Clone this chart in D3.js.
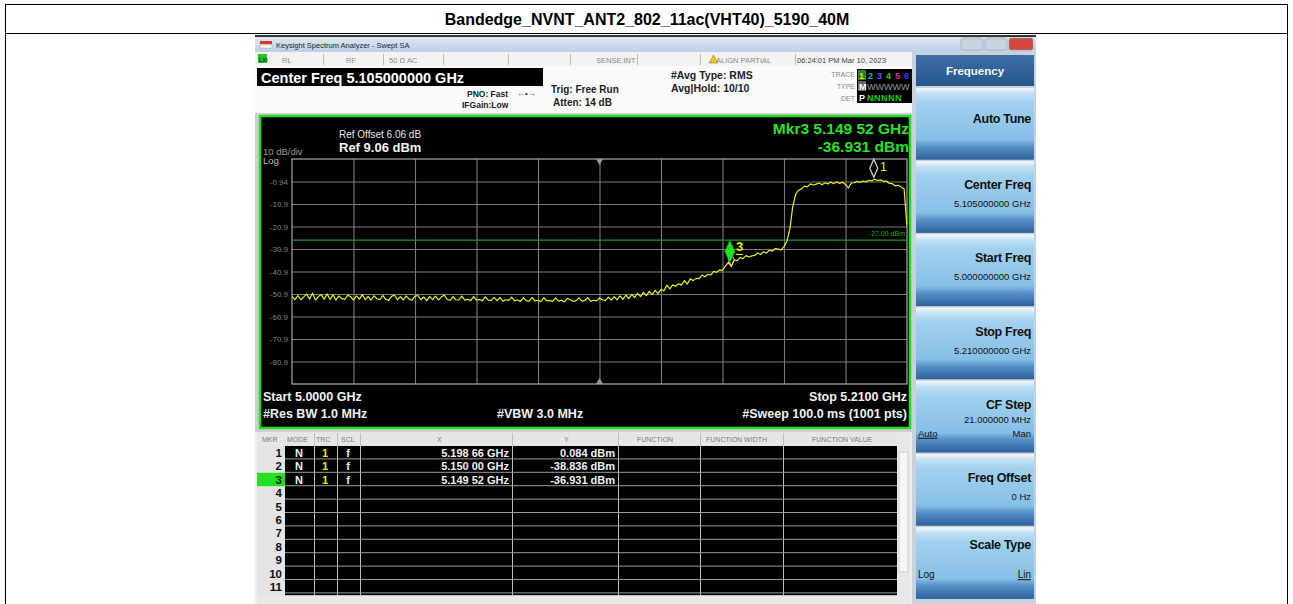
<!DOCTYPE html>
<html>
<head>
<meta charset="utf-8">
<script src="https://cdn.jsdelivr.net/npm/d3@7"></script>
<style>
body { margin: 0; background: #fff; }
svg { display: block; font-family: "Liberation Sans", Arial, sans-serif; }
</style>
</head>
<body>
<script>
"use strict";
var W = 1293, H = 604;

// sweep settings
var startFreq = 5.0;
var stopFreq = 5.21;
var refLevel = 9.06;
var dbPerDiv = 10;
var displayLine = -27.0;

// trace 1 levels (dBm), one reading every 1 MHz from start to stop
var traceLevels = [
	-52.0,-53.4,-51.6,-53.5,-52.2,-51.0,-53.2,-50.6,-53.6,-52.1,
	-51.2,-53.3,-50.9,-53.4,-51.3,-53.7,-51.8,-53.0,-53.3,-51.5,
	-52.1,-53.6,-51.8,-53.2,-51.2,-53.5,-52.0,-53.7,-51.7,-53.1,
	-53.4,-51.6,-53.3,-53.8,-52.0,-51.4,-53.5,-52.1,-53.6,-51.8,
	-53.2,-53.7,-51.9,-51.6,-53.5,-52.2,-53.9,-52.0,-53.4,-51.9,
	-53.6,-52.3,-51.4,-53.4,-53.8,-52.1,-53.5,-53.6,-51.9,-53.7,
	-53.3,-53.9,-52.1,-53.6,-53.4,-54.0,-52.2,-53.7,-53.8,-52.4,
	-53.9,-52.5,-54.1,-53.5,-53.8,-52.3,-54.0,-53.6,-54.2,-52.6,
	-53.9,-54.1,-52.5,-54.0,-53.7,-54.3,-52.6,-54.0,-53.8,-54.2,
	-52.7,-54.1,-53.7,-54.4,-52.9,-53.5,-54.2,-53.9,-52.7,-54.1,
	-53.8,-52.6,-54.2,-53.7,-54.0,-52.7,-53.5,-53.9,-52.3,-53.6,
	-52.1,-53.5,-51.8,-53.3,-51.4,-53.0,-51.1,-52.5,-50.7,-52.1,
	-50.2,-51.7,-49.8,-51.2,-49.3,-50.8,-48.9,-49.5,-47.0,-48.7,
	-46.9,-47.5,-46.4,-47.0,-45.0,-46.5,-44.2,-45.0,-44.0,-44.1,
	-42.5,-43.3,-42.2,-42.5,-40.9,-41.3,-40.2,-40.4,-38.5,-36.9,
	-38.8,-35.8,-36.1,-34.7,-35.2,-33.9,-34.5,-34.0,-33.8,-32.7,
	-33.4,-32.2,-32.7,-31.5,-31.9,-30.7,-31.0,-31.4,-29.9,-27.5,
	-22.0,-12.0,-6.5,-4.8,-4.2,-3.0,-3.3,-2.0,-2.5,-2.1,
	-1.6,-2.4,-1.5,-2.0,-1.2,-1.9,-1.1,-1.8,-1.3,-2.3,
	-3.8,-1.6,-1.5,-0.9,-1.3,-0.8,-1.1,-0.4,-0.6,0.08,
	-0.5,-0.2,-0.9,-0.8,-1.8,-1.9,-2.9,-2.6,-3.4,-4.2,-21.0
];

// graticule labels on the left
var gridLevels = [-0.94,-10.94,-20.94,-30.94,-40.94,-50.94,-60.94,-70.94,-80.94];
var gridLabels = ["-0.94","-10.9","-20.9","-30.9","-40.9","-50.9","-60.9","-70.9","-80.9"];

// marker table
var markerIds = [1,2,3];
var markerFreqs = [5.19866, 5.15000, 5.14952];
var markerLevels = [0.084, -38.836, -36.931];
var markerXText = ["5.198 66 GHz","5.150 00 GHz","5.149 52 GHz"];
var markerYText = ["0.084 dBm","-38.836 dBm","-36.931 dBm"];
var tableRows = [1,2,3,4,5,6,7,8,9,10,11];

// soft keys
var softKeys = ["Auto Tune","Center Freq","Start Freq","Stop Freq","CF Step","Freq Offset","Scale Type"];
var softValues = ["","5.105000000 GHz","5.000000000 GHz","5.210000000 GHz","21.000000 MHz","0 Hz",""];

var svg = d3.select("body").append("svg").attr("width", W).attr("height", H);
var defs = svg.append("defs");

// ---------- page frame and title
svg.append("rect").attr("x",5.5).attr("y",4.5).attr("width",1282).attr("height",640)
	.attr("fill","none").attr("stroke","#000");
svg.append("line").attr("x1",5).attr("x2",1288).attr("y1",33.5).attr("y2",33.5).attr("stroke","#000");
svg.append("text").attr("x",647).attr("y",25).attr("text-anchor","middle")
	.attr("font-size",16).attr("font-weight","bold").text("Bandedge_NVNT_ANT2_802_11ac(VHT40)_5190_40M");

// ---------- screenshot background
svg.append("rect").attr("x",255).attr("y",35).attr("width",781).attr("height",569).attr("fill","#eeeeee");

// window title bar
var tb = defs.append("linearGradient").attr("id","tbar").attr("x1",0).attr("x2",0).attr("y1",0).attr("y2",1);
tb.append("stop").attr("offset","0%").attr("stop-color","#dfe9f4");
tb.append("stop").attr("offset","100%").attr("stop-color","#bccfe5");
svg.append("rect").attr("x",255).attr("y",35).attr("width",781).attr("height",2).attr("fill","#333");
svg.append("rect").attr("x",255).attr("y",37).attr("width",781).attr("height",15).attr("fill","url(#tbar)");
svg.append("rect").attr("x",260).attr("y",41).attr("width",12).attr("height",3).attr("fill","#d33");
svg.append("rect").attr("x",260).attr("y",45).attr("width",12).attr("height",3).attr("fill","#fff").attr("stroke","#999").attr("stroke-width",0.5);
svg.append("text").attr("x",276).attr("y",48).attr("font-size",7.5).attr("fill","#223")
	.text("Keysight Spectrum Analyzer - Swept SA");
[[961,22,"#c9d3df"],[985,22,"#c9d3df"],[1009,24,"#d2483b"]].forEach(function(b){
	svg.append("rect").attr("x",b[0]).attr("y",38).attr("width",b[1]).attr("height",12)
		.attr("rx",2).attr("fill",b[2]).attr("stroke","#8b9bb0").attr("stroke-width",0.6);
});

// status row
svg.append("rect").attr("x",255).attr("y",52).attr("width",657).attr("height",14).attr("fill","#f3f3f3");
svg.append("rect").attr("x",258).attr("y",54).attr("width",9).attr("height",9).attr("fill","#22c422");
svg.append("text").attr("x",259).attr("y",62).attr("font-size",6).attr("fill","#000").text("LXI");
[323,383,443,508,570,637,700,795].forEach(function(px){
	svg.append("line").attr("x1",px+0.5).attr("x2",px+0.5).attr("y1",54).attr("y2",65).attr("stroke","#bbb");
});
var statusTexts = [[282,"RL"],[346,"RF"],[389,"50 Ω   AC"],[596,"SENSE:INT"],[716,"ALIGN PARTIAL"],[797,"06:24:01 PM Mar 10, 2023"]];
statusTexts.forEach(function(s){
	svg.append("text").attr("x",s[0]).attr("y",63).attr("font-size",7.5).attr("fill", s[0]==797 ? "#444" : "#888").text(s[1]);
});
svg.append("path").attr("d","M709,63 L713.5,55 L718,63 Z").attr("fill","#e8c400").attr("stroke","#777").attr("stroke-width",0.5);

// info area
svg.append("rect").attr("x",255).attr("y",66).attr("width",657).attr("height",47).attr("fill","#fafafa");
svg.append("rect").attr("x",257).attr("y",68).attr("width",286).attr("height",18).attr("fill","#000");
svg.append("text").attr("x",261).attr("y",83).attr("font-size",14.5).attr("font-weight","bold").attr("fill","#fff")
	.text("Center Freq 5.105000000 GHz");
function infoText(x, y, size, t, anchor) {
	svg.append("text").attr("x",x).attr("y",y).attr("font-size",size).attr("font-weight","bold")
		.attr("fill","#222").attr("text-anchor",anchor || "start").text(t);
}
infoText(467,97,8.5,"PNO: Fast");
infoText(462,108,8.5,"IFGain:Low");
svg.append("text").attr("x",517).attr("y",96).attr("font-size",8).attr("fill","#333").text("←•→");
infoText(551,93,10,"Trig: Free Run");
infoText(553,106,10,"Atten: 14 dB");
infoText(671,79,10.5,"#Avg Type: RMS");
infoText(671,92,10.5,"Avg|Hold: 10/10");
[["TRACE",77],["TYPE",89],["DET",101]].forEach(function(t){
	svg.append("text").attr("x",855).attr("y",t[1]).attr("font-size",7).attr("fill","#888").attr("text-anchor","end").text(t[0]);
});
svg.append("rect").attr("x",857).attr("y",69).attr("width",55).attr("height",34).attr("fill","#000");
var traceColors = ["#e8e800","#1fb7c4","#5b5bff","#22cc22","#e0307a","#3b3bff"];
svg.append("rect").attr("x",858).attr("y",70).attr("width",8).attr("height",10).attr("fill","#2f7f2f");
traceColors.forEach(function(c,i){
	svg.append("text").attr("x",859+i*9).attr("y",79).attr("font-size",9).attr("font-weight","bold").attr("fill",c).text(i+1);
});
svg.append("rect").attr("x",858).attr("y",81).attr("width",8).attr("height",10).attr("fill","#666");
svg.append("text").attr("x",859).attr("y",90).attr("font-size",9).attr("font-weight","bold").attr("fill","#fff").text("M");
svg.append("text").attr("x",867).attr("y",90).attr("font-size",9).attr("fill","#999").text("WWWWW");
svg.append("text").attr("x",859).attr("y",101).attr("font-size",9).attr("font-weight","bold").attr("fill","#fff").text("P");
svg.append("text").attr("x",867).attr("y",101).attr("font-size",9).attr("font-weight","bold").attr("fill","#18d018")
	.attr("letter-spacing",0.5).text("NNNNN");

// ---------- plot panel
svg.append("rect").attr("x",255).attr("y",113).attr("width",657).attr("height",319).attr("fill","#cfcfcf");
svg.append("rect").attr("x",260).attr("y",116).attr("width",650).attr("height",312)
	.attr("fill","#000").attr("stroke","#22dd22").attr("stroke-width",2.5);

var gx0 = 292, gx1 = 907, gy0 = 159, gy1 = 384;
var x = d3.scaleLinear().domain([startFreq, stopFreq]).range([gx0, gx1]);
var y = d3.scaleLinear().domain([refLevel, refLevel - 10*dbPerDiv]).range([gy0, gy1]);

// vertical graticule
var xDivs = d3.range(1,10).map(function(k){ return startFreq + k*(stopFreq-startFreq)/10; });
var xAxis = svg.append("g").attr("transform","translate(0,"+gy0+")")
	.call(d3.axisTop(x).tickValues(xDivs).tickSize(-(gy1-gy0)).tickFormat(""));
xAxis.select(".domain").remove();
xAxis.selectAll("line").attr("stroke","#7d7d7d").attr("stroke-width",1.1);

// horizontal graticule with level labels
var yAxis = svg.append("g").attr("transform","translate("+gx0+",0)")
	.call(d3.axisLeft(y).tickValues(gridLevels).tickSize(-(gx1-gx0)).tickPadding(4)
		.tickFormat(function(d,i){ return gridLabels[i]; }));
yAxis.select(".domain").remove();
yAxis.selectAll("line").attr("stroke","#7d7d7d").attr("stroke-width",1.1);
yAxis.selectAll("text").attr("fill","#808080").attr("font-size",8).attr("font-family","Liberation Sans, Arial, sans-serif");

svg.append("rect").attr("x",gx0).attr("y",gy0).attr("width",gx1-gx0).attr("height",gy1-gy0)
	.attr("fill","none").attr("stroke","#a8a8a8").attr("stroke-width",1.2);

// center frequency indicators
var cx = x((startFreq+stopFreq)/2);
svg.append("path").attr("d","M"+(cx-3.5)+","+gy0+" L"+(cx+3.5)+","+gy0+" L"+cx+","+(gy0+6)+" Z").attr("fill","#999");
svg.append("path").attr("d","M"+(cx-3.5)+","+gy1+" L"+(cx+3.5)+","+gy1+" L"+cx+","+(gy1-6)+" Z").attr("fill","#999");

// display line
svg.append("line").attr("x1",gx0).attr("x2",gx1).attr("y1",y(displayLine)).attr("y2",y(displayLine))
	.attr("stroke","#1a9a1a").attr("stroke-width",1.3);
svg.append("text").attr("x",gx1-2).attr("y",y(displayLine)-4).attr("text-anchor","end")
	.attr("font-size",7).attr("fill","#1faa1f").text("-27.00 dBm");

// trace
defs.append("clipPath").attr("id","grat").append("rect")
	.attr("x",gx0).attr("y",gy0).attr("width",gx1-gx0).attr("height",gy1-gy0);
var step = (stopFreq - startFreq) / (traceLevels.length - 1);
var line = d3.line()
	.x(function(d,i){ return x(startFreq + i*step); })
	.y(function(d){ return y(d); });
svg.append("path").datum(traceLevels).attr("d",line).attr("clip-path","url(#grat)")
	.attr("fill","none").attr("stroke","#eeee10").attr("stroke-width",1.2).attr("stroke-linejoin","round");

// markers
function diamond(mx, my, w, h) {
	return "M"+mx+","+my+" L"+(mx+w/2)+","+(my-h/2)+" L"+mx+","+(my-h)+" L"+(mx-w/2)+","+(my-h/2)+" Z";
}
var m2x = x(markerFreqs[1]), m2y = y(markerLevels[1]);
svg.append("path").attr("d",diamond(m2x, m2y-1, 6, 12)).attr("fill","none").attr("stroke","#cfcfcf").attr("stroke-width",1);
var m1x = x(markerFreqs[0]), m1y = y(markerLevels[0]);
svg.append("path").attr("d",diamond(m1x, m1y-2, 8, 18)).attr("fill","none").attr("stroke","#d8d8d8").attr("stroke-width",1.2);
svg.append("text").attr("x",m1x+6).attr("y",m1y-8).attr("font-size",13).attr("fill","#e8e800").text(markerIds[0]);
var m3x = x(markerFreqs[2]), m3y = y(markerLevels[2]);
svg.append("path").attr("d",diamond(m3x, m3y, 10, 22)).attr("fill","#22e022").attr("stroke","#1aa81a").attr("stroke-width",0.8);
svg.append("text").attr("x",m3x+6).attr("y",m3y-11).attr("font-size",13).attr("font-weight","bold").attr("fill","#e8e800").text(markerIds[2]);
svg.append("line").attr("x1",m3x+6).attr("x2",m3x+13).attr("y1",m3y-8).attr("y2",m3y-8).attr("stroke","#e8e800").attr("stroke-width",1.2);

// plot annotations
function plotText(px, py, size, t, color, bold, anchor) {
	svg.append("text").attr("x",px).attr("y",py).attr("font-size",size)
		.attr("font-weight",bold ? "bold" : "normal").attr("fill",color)
		.attr("text-anchor",anchor || "start").text(t);
}
plotText(339,138,10,"Ref Offset 6.06 dB","#e6e6e6",false);
plotText(339,152,13,"Ref 9.06 dBm","#f2f2f2",true);
plotText(263,155,9.5,"10 dB/div","#9a9a9a",false);
plotText(263,164,9.5,"Log","#bdbdbd",false);
plotText(909,134,15.5,"Mkr3 5.149 52 GHz","#2be02b",true,"end");
plotText(909,152,15.5,"-36.931 dBm","#2be02b",true,"end");
plotText(263,401,12.5,"Start 5.0000 GHz","#f2f2f2",true);
plotText(263,418,12.5,"#Res BW 1.0 MHz","#f2f2f2",true);
plotText(497,418,12.5,"#VBW 3.0 MHz","#f2f2f2",true);
plotText(907,401,12.5,"Stop 5.2100 GHz","#f2f2f2",true,"end");
plotText(907,418,12.5,"#Sweep  100.0 ms (1001 pts)","#f2f2f2",true,"end");

// ---------- marker table
var tY0 = 446, rowH = 13.4;
svg.append("rect").attr("x",257).attr("y",432).attr("width",653).attr("height",14).attr("fill","#e6e6e6");
svg.append("rect").attr("x",285).attr("y",tY0).attr("width",612).attr("height",rowH*11+2).attr("fill","#000");
svg.append("rect").attr("x",257).attr("y",tY0).attr("width",28).attr("height",rowH*11+2).attr("fill","#e4e4e4");
svg.append("rect").attr("x",897).attr("y",432).attr("width",13).attr("height",166).attr("fill","#e8e8e8");
svg.append("rect").attr("x",899).attr("y",452).attr("width",9).attr("height",120).attr("fill","#f6f6f6").attr("stroke","#bbb").attr("stroke-width",0.6);
svg.append("rect").attr("x",257).attr("y",tY0+rowH*11+2).attr("width",653).attr("height",10).attr("fill","#e8e8e8");
svg.append("rect").attr("x",257).attr("y",tY0+rowH*2).attr("width",28).attr("height",rowH).attr("fill","#22e022");

var headers = [[262,"MKR"],[287,"MODE"],[316,"TRC"],[341,"SCL"],[437,"X"],[564,"Y"],[637,"FUNCTION"],[706,"FUNCTION WIDTH"],[812,"FUNCTION VALUE"]];
headers.forEach(function(h){
	svg.append("text").attr("x",h[0]).attr("y",442).attr("font-size",7).attr("fill","#7a7a7a").text(h[1]);
});
[314,337,360,512,618,700,783].forEach(function(cx){
	svg.append("line").attr("x1",cx+0.5).attr("x2",cx+0.5).attr("y1",433).attr("y2",tY0+rowH*11+2)
		.attr("stroke","#bdbdbd").attr("stroke-width",1);
});
var rows = svg.selectAll("g.trow").data(tableRows).enter().append("g").attr("class","trow")
	.attr("transform",function(d,i){ return "translate(0,"+(tY0+i*rowH)+")"; });
rows.append("line").attr("x1",285).attr("x2",897).attr("y1",rowH-0.5).attr("y2",rowH-0.5)
	.attr("stroke","#9a9a9a").attr("stroke-width",1);
rows.append("text").attr("x",282).attr("y",11).attr("text-anchor","end").attr("font-size",11.5)
	.attr("font-weight","bold").attr("fill","#111").text(function(d){ return d; });
markerIds.forEach(function(id,i){
	var g = d3.select(rows.nodes()[i]);
	g.append("text").attr("x",299).attr("y",11).attr("text-anchor","middle").attr("font-size",11)
		.attr("font-weight","bold").attr("fill","#f0f0f0").text("N");
	g.append("text").attr("x",325).attr("y",11).attr("text-anchor","middle").attr("font-size",11)
		.attr("font-weight","bold").attr("fill","#e8e800").text("1");
	g.append("text").attr("x",348).attr("y",11).attr("text-anchor","middle").attr("font-size",11)
		.attr("font-weight","bold").attr("fill","#f0f0f0").text("f");
	g.append("text").attr("x",509).attr("y",11).attr("text-anchor","end").attr("font-size",11)
		.attr("font-weight","bold").attr("fill","#f0f0f0").text(markerXText[i]);
	g.append("text").attr("x",615).attr("y",11).attr("text-anchor","end").attr("font-size",11)
		.attr("font-weight","bold").attr("fill","#f0f0f0").text(markerYText[i]);
});

// ---------- soft key panel
svg.append("rect").attr("x",912).attr("y",52).attr("width",124).attr("height",552).attr("fill","#c9d2dc");
var hg = defs.append("linearGradient").attr("id","hdr").attr("x1",0).attr("x2",0).attr("y1",0).attr("y2",1);
hg.append("stop").attr("offset","0%").attr("stop-color","#3d6fa6");
hg.append("stop").attr("offset","100%").attr("stop-color","#25578f");
svg.append("rect").attr("x",916).attr("y",55).attr("width",118).attr("height",31).attr("fill","url(#hdr)");
svg.append("text").attr("x",975).attr("y",75).attr("text-anchor","middle").attr("font-size",11.5)
	.attr("font-weight","bold").attr("fill","#f4f8fc").text("Frequency");

var bg = defs.append("linearGradient").attr("id","key").attr("x1",0).attr("x2",0).attr("y1",0).attr("y2",1);
[["0%","#f4f9fd"],["8%","#c2e1f4"],["20%","#a2d1ef"],["72%","#86bfe6"],["82%","#5690c5"],["100%","#2d619c"]].forEach(function(s){
	bg.append("stop").attr("offset",s[0]).attr("stop-color",s[1]);
});
var keyTop = 88, keyH = 73.2;
var keys = svg.selectAll("g.key").data(softKeys).enter().append("g").attr("class","key")
	.attr("transform",function(d,i){ return "translate(916,"+(keyTop+i*keyH)+")"; });
keys.append("rect").attr("width",118).attr("height",keyH-1.5).attr("fill","url(#key)");
keys.append("text").attr("x",115).attr("y",function(d,i){ return i==0 ? 35 : (i==6 ? 22 : 28); })
	.attr("text-anchor","end").attr("font-size",12.5).attr("font-weight","bold").attr("fill","#111")
	.attr("letter-spacing",-0.3).text(function(d){ return d; });
keys.append("text").attr("x",115).attr("y",function(d,i){ return i==4 ? 42 : 46; })
	.attr("text-anchor","end").attr("font-size",9.5).attr("fill","#111")
	.text(function(d,i){ return softValues[i]; });
// Auto / Man and Log / Lin choices
var cf = d3.select(keys.nodes()[4]);
cf.append("text").attr("x",2).attr("y",56).attr("font-size",9.5).attr("fill","#111").attr("text-decoration","underline").text("Auto");
cf.append("text").attr("x",115).attr("y",56).attr("text-anchor","end").attr("font-size",9.5).attr("fill","#111").text("Man");
var st = d3.select(keys.nodes()[6]);
st.append("text").attr("x",2).attr("y",51).attr("font-size",10).attr("fill","#111").text("Log");
st.append("text").attr("x",115).attr("y",51).attr("text-anchor","end").attr("font-size",10).attr("fill","#111").attr("text-decoration","underline").text("Lin");
</script>
</body>
</html>
